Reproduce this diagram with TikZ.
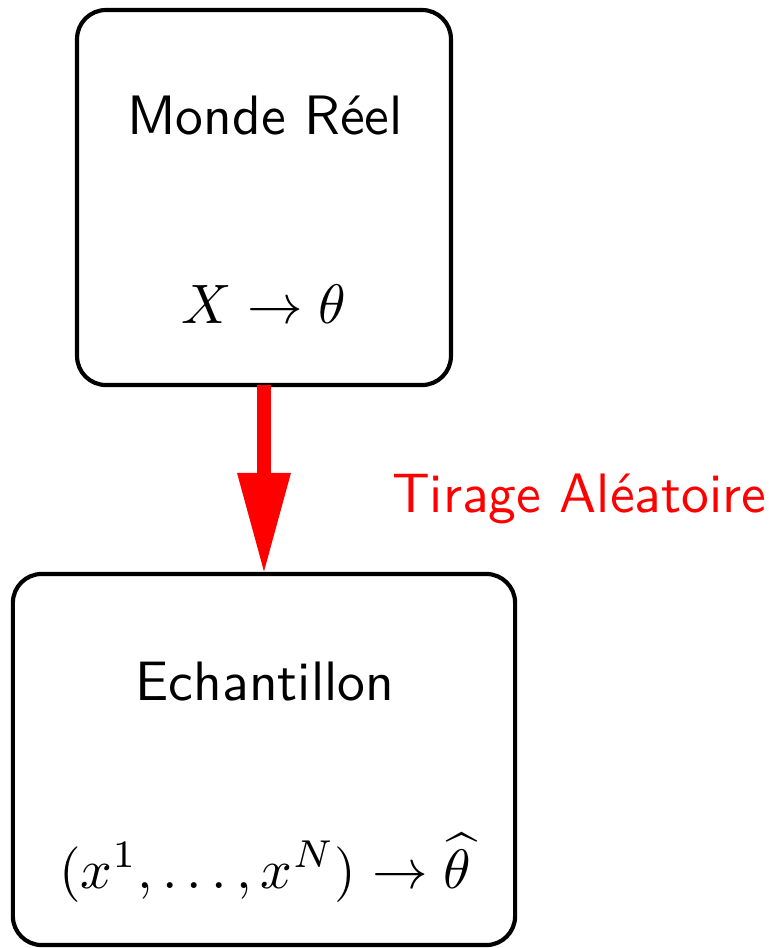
\documentclass[tikz,border=0pt]{standalone}
\usepackage{fontspec}
\usetikzlibrary{arrows.meta}
\begin{document}
\begin{tikzpicture}[x=0.18pt,y=-0.18pt,
  box/.style={draw=black, line width=0.75pt, rounded corners=5.2pt, inner sep=0pt, outer sep=0pt},
  lbl/.style={anchor=base, inner sep=0pt, font=\sffamily},
  mth/.style={anchor=base, inner sep=0pt},
  flow/.style={draw=red, line width=2.35pt, -{Triangle[length=18.2pt,width=9pt]}}]
\useasboundingbox (0,0) rectangle (769,948);
\node[box, minimum width=67.3pt, minimum height=67.5pt] (reel) at (264,197.5) {};
\node[box, minimum width=90.4pt, minimum height=66.8pt] (ech) at (264,759.5) {};
\node[lbl] (t1) at (265,134) {Monde Réel};
\node[mth] (m1) at (264,323) {$X \rightarrow \theta$};
\node[lbl] (t2) at (265,700) {Echantillon};
\node[mth] (m2) at (265,888) {$(x^1,\ldots,x^N) \rightarrow \widehat{\theta}$};
\draw[flow] (reel.south) -- (ech.north);
\node[lbl, text=red, anchor=base west] (tir) at (391,512) {Tirage Aléatoire};
\end{tikzpicture}
\end{document}
